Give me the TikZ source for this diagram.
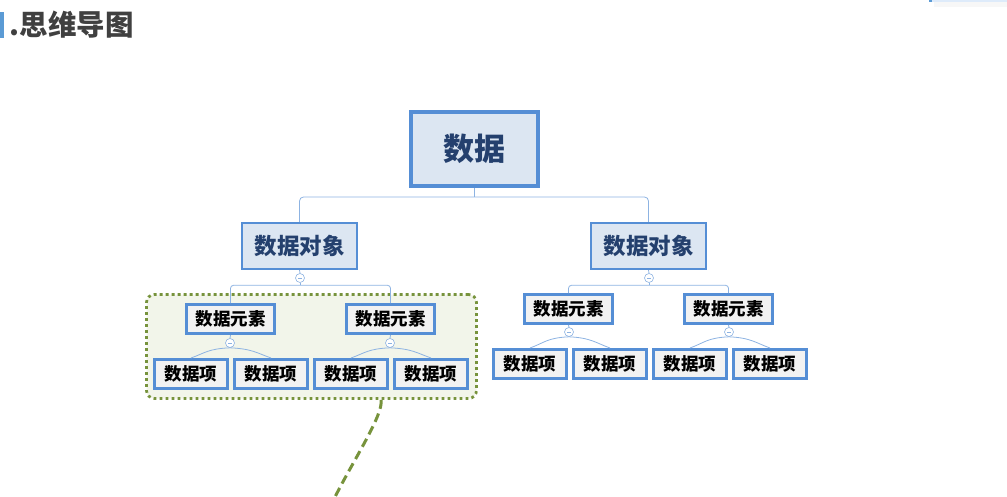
\documentclass[tikz,border=0pt]{standalone}
\usepackage{fontspec}
\newfontfamily\cjk{Noto Sans CJK SC}
\usetikzlibrary{positioning}
\definecolor{mlblue}{RGB}{85,142,213}
\definecolor{mlline}{RGB}{141,179,226}
\definecolor{mlpale}{RGB}{220,230,242}
\definecolor{mlgray}{RGB}{242,242,242}
\definecolor{mldark}{RGB}{36,64,110}
\definecolor{mlgreen}{RGB}{119,147,60}
\definecolor{mlgreenbg}{RGB}{242,245,234}
\definecolor{mltitle}{RGB}{64,64,64}
\definecolor{mlbar}{RGB}{91,155,213}
\definecolor{mlbarpale}{RGB}{222,235,250}
\begin{document}
\begin{tikzpicture}[x=1pt, y=-1pt,
  conn/.style={draw=mlline, line width=0.8pt},
  rootbox/.style={draw=mlblue, fill=mlpale, line width=4pt, minimum width=127pt, minimum height=74pt, text=mldark, font=\cjk\bfseries\fontsize{31pt}{33pt}\selectfont},
  objbox/.style={draw=mlblue, fill=mlpale, line width=2pt, minimum width=115pt, minimum height=46pt, text=mldark, font=\cjk\bfseries\fontsize{22.5pt}{24pt}\selectfont},
  elembox/.style={draw=mlblue, fill=mlgray, line width=3pt, minimum width=88pt, minimum height=29pt, font=\cjk\bfseries\fontsize{17.5pt}{19pt}\selectfont},
  itembox/.style={draw=mlblue, fill=mlgray, line width=3pt, minimum width=73pt, minimum height=29pt, font=\cjk\bfseries\fontsize{17.5pt}{19pt}\selectfont},
  fold/.style={circle, draw=mlline, fill=white, line width=0.6pt, minimum size=9pt, inner sep=0pt,
    path picture={\draw[mlline, line width=0.8pt] ([xshift=-2.2pt]path picture bounding box.center) -- ([xshift=2.2pt]path picture bounding box.center);}},
  groupbox/.style={draw=mlgreen, fill=mlgreenbg, line width=2.8pt, dash pattern=on 2.8pt off 3.2pt, rounded corners=8pt, minimum width=330pt, minimum height=104pt},
  tailline/.style={draw=mlgreen, line width=3pt, dash pattern=on 9pt off 5pt}
]
\useasboundingbox (0,0) rectangle (1007,497);
% Title
\fill[mlbar] (0,12) rectangle (4,38);
\node[anchor=west, inner sep=0pt, text=mltitle, font=\cjk\bfseries\fontsize{28.5pt}{30pt}\selectfont] (title) at (9.5,25) {.思维导图};
\fill[black!3] (934,2.5) rectangle (1007,7);
\fill[mlbarpale] (929,0) rectangle (1007,2.5);
\fill[mlbar] (929,0) rectangle (932,2.5);
% Highlighted group
\node[groupbox] (grp) at (311.5,346.5) {};
\coordinate (tail) at (335,497);
\draw[tailline] ([xshift=69.5pt]grp.south) .. controls +(3,14) and +(18,-36) .. (tail);
% Root and objects
\node[rootbox] (root) at (474.5,149) {数据};
\node[objbox] (obj1) at (299.5,246) {数据对象};
\node[objbox] (obj2) at (648.5,246) {数据对象};
\draw[conn] (root.south) -- ++(0,9) coordinate (rj);
\draw[conn, rounded corners=4pt] (obj1.north) |- (rj) -| (obj2.north);
% Elements
\node[fold] (f1) at (300,278) {};
\node[fold] (f2) at (649,278) {};
\node[elembox] (e11) at (230.5,319) {数据元素};
\node[elembox] (e12) at (390.5,319) {数据元素};
\node[elembox] (e21) at (568.5,309) {数据元素};
\node[elembox] (e22) at (728.5,309) {数据元素};
\draw[conn] (obj1.south) -- (f1.north);
\draw[conn] (obj2.south) -- (f2.north);
\draw[conn] (f1.south) -- ++(0,2.5) coordinate (j1);
\draw[conn] (f2.south) -- ++(0,2.5) coordinate (j2);
\draw[conn, rounded corners=3pt] (e11.north) |- (j1) -| (e12.north);
\draw[conn, rounded corners=3pt] (e21.north) |- (j2) -| (e22.north);
% Items
\node[fold] (f11) at (230,343) {};
\node[fold] (f12) at (390,343) {};
\node[fold] (f21) at (569,332) {};
\node[fold] (f22) at (729,332) {};
\foreach \e/\f in {e11/f11, e12/f12, e21/f21, e22/f22}
  \draw[conn] (\e.south) -- (\f.north);
\node[itembox] (i1) at (191,374) {数据项};
\node[itembox] (i2) at (271,374) {数据项};
\node[itembox] (i3) at (351,374) {数据项};
\node[itembox] (i4) at (431,374) {数据项};
\node[itembox] (i5) at (530,364) {数据项};
\node[itembox] (i6) at (610,364) {数据项};
\node[itembox] (i7) at (690,364) {数据项};
\node[itembox] (i8) at (770,364) {数据项};
\foreach \f/\a/\b in {f11/i1/i2, f12/i3/i4, f21/i5/i6, f22/i7/i8} {
  \draw[conn] (\f.south) .. controls +(-22,1) and +(14,-5) .. (\a.north);
  \draw[conn] (\f.south) .. controls +(22,1) and +(-14,-5) .. (\b.north);
}
\end{tikzpicture}
\end{document}
